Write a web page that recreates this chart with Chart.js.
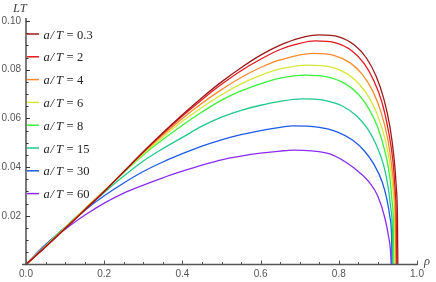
<!DOCTYPE html>
<html lang="en">
<head>
  <meta charset="UTF-8" />
  <title>LT vs rho</title>
  <script src="https://cdn.jsdelivr.net/npm/chart.js"></script>
  <style>
    html, body { margin: 0; padding: 0; background: #fff; }
    #wrap { width: 436px; height: 282px; position: relative; }
  </style>
</head>
<body>
  <div id="wrap"><canvas id="lt"></canvas></div>

  <script>
    // a/T values shown in the legend
    const aLabels = ['0.3', '2', '4', '6', '8', '15', '30', '60'];

    // curves (rho, LT)
    const rho03 = [0, 0.05, 0.1, 0.15, 0.2, 0.25, 0.3, 0.35, 0.4, 0.45, 0.5, 0.55, 0.6, 0.65, 0.7, 0.75, 0.8, 0.84, 0.871, 0.895, 0.915, 0.931, 0.941, 0.947, 0.95, 0.951];
    const lt03  = [0, 0.0072, 0.0147, 0.0223, 0.0300, 0.0381, 0.0463, 0.0541, 0.0615, 0.0685, 0.0750, 0.0808, 0.0860, 0.0901, 0.0930, 0.0943, 0.0935, 0.0901, 0.0847, 0.0775, 0.0681, 0.0563, 0.0442, 0.0318, 0.0191, 0];

    const rho2 = [0, 0.05, 0.1, 0.15, 0.2, 0.25, 0.3, 0.35, 0.4, 0.45, 0.5, 0.55, 0.6, 0.65, 0.7, 0.74, 0.792, 0.834, 0.865, 0.89, 0.911, 0.927, 0.938, 0.944, 0.947, 0.948];
    const lt2  = [0, 0.0073, 0.0148, 0.0224, 0.0300, 0.0381, 0.0462, 0.0538, 0.0610, 0.0677, 0.0740, 0.0796, 0.0843, 0.0883, 0.0908, 0.0918, 0.0910, 0.0877, 0.0825, 0.0754, 0.0663, 0.0548, 0.0431, 0.0310, 0.0186, 0];

    const rho4 = [0, 0.05, 0.1, 0.15, 0.2, 0.25, 0.3, 0.35, 0.4, 0.45, 0.5, 0.55, 0.6, 0.65, 0.734, 0.787, 0.829, 0.861, 0.887, 0.908, 0.925, 0.935, 0.942, 0.945, 0.946];
    const lt4  = [0, 0.0074, 0.0150, 0.0226, 0.0302, 0.0381, 0.0460, 0.0532, 0.0600, 0.0662, 0.0718, 0.0768, 0.0809, 0.0840, 0.0867, 0.0859, 0.0828, 0.0779, 0.0712, 0.0626, 0.0517, 0.0407, 0.0293, 0.0176, 0];

    const rho6 = [0, 0.05, 0.1, 0.15, 0.2, 0.25, 0.3, 0.35, 0.4, 0.45, 0.5, 0.55, 0.6, 0.65, 0.722, 0.778, 0.822, 0.855, 0.882, 0.904, 0.922, 0.933, 0.94, 0.943, 0.944];
    const lt6  = [0, 0.0075, 0.0151, 0.0227, 0.0303, 0.0380, 0.0455, 0.0524, 0.0588, 0.0645, 0.0697, 0.0742, 0.0777, 0.0803, 0.0819, 0.0812, 0.0783, 0.0736, 0.0673, 0.0591, 0.0489, 0.0384, 0.0277, 0.0166, 0];

    const rho8 = [0, 0.05, 0.1, 0.15, 0.2, 0.25, 0.3, 0.35, 0.4, 0.45, 0.5, 0.55, 0.6, 0.65, 0.713, 0.77, 0.816, 0.85, 0.877, 0.9, 0.918, 0.93, 0.936, 0.94, 0.941];
    const lt8  = [0, 0.0076, 0.0152, 0.0228, 0.0303, 0.0378, 0.0450, 0.0513, 0.0572, 0.0626, 0.0675, 0.0713, 0.0742, 0.0765, 0.0778, 0.0771, 0.0743, 0.0699, 0.0639, 0.0562, 0.0464, 0.0365, 0.0263, 0.0158, 0];

    const rho15 = [0, 0.05, 0.1, 0.15, 0.2, 0.25, 0.3, 0.35, 0.4, 0.45, 0.5, 0.55, 0.6, 0.65, 0.705, 0.763, 0.81, 0.845, 0.873, 0.896, 0.915, 0.926, 0.933, 0.937, 0.938];
    const lt15  = [0, 0.0078, 0.0153, 0.0226, 0.0296, 0.0363, 0.0425, 0.0476, 0.0522, 0.0568, 0.0605, 0.0633, 0.0654, 0.0670, 0.0680, 0.0674, 0.0650, 0.0611, 0.0559, 0.0491, 0.0406, 0.0319, 0.0230, 0.0138, 0];

    const rho30 = [0, 0.05, 0.1, 0.15, 0.2, 0.25, 0.3, 0.35, 0.4, 0.45, 0.5, 0.55, 0.6, 0.65, 0.683, 0.746, 0.797, 0.835, 0.865, 0.89, 0.911, 0.923, 0.931, 0.935, 0.936];
    const lt30  = [0, 0.0080, 0.0153, 0.0222, 0.0282, 0.0335, 0.0382, 0.0421, 0.0455, 0.0486, 0.0512, 0.0533, 0.0550, 0.0563, 0.0569, 0.0564, 0.0544, 0.0511, 0.0467, 0.0411, 0.0339, 0.0267, 0.0192, 0.0115, 0];

    const rho60 = [0, 0.05, 0.1, 0.15, 0.2, 0.25, 0.3, 0.35, 0.4, 0.45, 0.5, 0.55, 0.6, 0.65, 0.684, 0.73, 0.777, 0.82, 0.855, 0.88, 0.9, 0.918, 0.927, 0.932, 0.934];
    const lt60  = [0, 0.0082, 0.0145, 0.0202, 0.0252, 0.0293, 0.0326, 0.0356, 0.0383, 0.0408, 0.0430, 0.0445, 0.0457, 0.0466, 0.0470, 0.0467, 0.0454, 0.0418, 0.0375, 0.0333, 0.0280, 0.0190, 0.0118, 0.0060, 0];

    const colors = ['#9e1a1a', '#e3191e', '#fb8a2a', '#d4e83a', '#3cf03c', '#1fc98a', '#1e5ae6', '#8a2cf2'];

    const series = [
      [rho03, lt03], [rho2, lt2], [rho4, lt4], [rho6, lt6],
      [rho8, lt8], [rho15, lt15], [rho30, lt30], [rho60, lt60]
    ];

    const datasets = series.map(([xs, ys], i) => ({
      label: 'a/T = ' + aLabels[i],
      data: xs.map((x, k) => ({ x, y: ys[k] })),
      borderColor: colors[i],
      borderWidth: 1.3,
      pointRadius: 0,
      cubicInterpolationMode: 'monotone',
      fill: false
    }));

    function isMult(v, step) {
      const q = v / step;
      return Math.abs(q - Math.round(q)) < 1e-6;
    }

    // axes, inward ticks, axis titles and the legend
    const decor = {
      id: 'decor',
      afterDatasetsDraw(chart) {
        const ctx = chart.ctx;
        const xs = chart.scales.x, ys = chart.scales.y;
        const area = chart.chartArea;
        ctx.save();

        // axis lines
        ctx.strokeStyle = '#555';
        ctx.lineWidth = 1.6;
        ctx.beginPath();
        ctx.moveTo(area.left - 4, area.bottom);
        ctx.lineTo(area.right + 1, area.bottom);
        ctx.stroke();
        ctx.strokeStyle = '#333';
        ctx.lineWidth = 1.3;
        ctx.beginPath();
        ctx.moveTo(area.left, area.bottom);
        ctx.lineTo(area.left, area.top - 3);
        ctx.stroke();

        // ticks pointing into the plot
        ctx.lineWidth = 1;
        ctx.strokeStyle = '#555';
        xs.ticks.forEach(t => {
          const px = Math.round(xs.getPixelForValue(t.value)) + 0.5;
          const len = isMult(t.value, 0.2) ? 4 : 2.5;
          ctx.beginPath();
          ctx.moveTo(px, area.bottom);
          ctx.lineTo(px, area.bottom - len);
          ctx.stroke();
        });
        ctx.strokeStyle = '#333';
        ys.ticks.forEach(t => {
          if (t.value === 0) return;
          const py = Math.round(ys.getPixelForValue(t.value)) + 0.5;
          const len = isMult(t.value, 0.02) ? 4 : 2.5;
          ctx.beginPath();
          ctx.moveTo(area.left, py);
          ctx.lineTo(area.left + len, py);
          ctx.stroke();
        });

        // axis titles
        ctx.fillStyle = '#444';
        ctx.font = 'italic 12.5px "Liberation Serif"';
        ctx.textBaseline = 'alphabetic';
        ctx.textAlign = 'left';
        ctx.fillText('LT', 13, 12);
        ctx.fillText('\u03c1', area.right + 7, area.bottom);

        // legend
        const top = 34, gap = 22.8;
        aLabels.forEach((lab, i) => {
          const cy = top + gap * i;
          ctx.strokeStyle = colors[i];
          ctx.lineWidth = 1.5;
          ctx.beginPath();
          ctx.moveTo(27, cy);
          ctx.lineTo(39, cy);
          ctx.stroke();
          ctx.fillStyle = '#222';
          ctx.font = 'italic 12.5px "Liberation Serif"';
          const base = cy + 4.5;
          ctx.fillText('a', 43.5, base);
          ctx.fillText('/', 50.5, base);
          ctx.fillText('T', 56, base);
          ctx.font = '12.5px "Liberation Serif"';
          ctx.fillText('=', 66.5, base);
          ctx.fillText(lab, 77, base);
        });
        ctx.restore();
      }
    };

    new Chart(document.getElementById('lt'), {
      type: 'line',
      data: { datasets },
      options: {
        responsive: true,
        maintainAspectRatio: false,
        animation: false,
        layout: { padding: { left: 0, right: 19, top: 21, bottom: 0 } },
        plugins: { legend: { display: false }, tooltip: { enabled: false } },
        scales: {
          x: {
            type: 'linear',
            min: 0,
            max: 1,
            grid: { display: false, drawTicks: false },
            border: { display: false },
            afterFit: s => { s.height = 17.5; },
            ticks: {
              stepSize: 0.05,
              autoSkip: false,
              maxRotation: 0,
              padding: 4,
              color: '#555',
              font: { family: 'Liberation Sans', size: 10 },
              callback: v => isMult(v, 0.2) ? v.toFixed(1) : ''
            }
          },
          y: {
            min: 0,
            max: 0.1,
            grid: { display: false, drawTicks: false },
            border: { display: false },
            afterFit: s => { s.width = 26; },
            ticks: {
              stepSize: 0.005,
              autoSkip: false,
              padding: 5,
              color: '#555',
              font: { family: 'Liberation Sans', size: 10 },
              callback: v => (v > 0 && isMult(v, 0.02)) ? v.toFixed(2) : ''
            }
          }
        }
      },
      plugins: [decor]
    });
  </script>
</body>
</html>
